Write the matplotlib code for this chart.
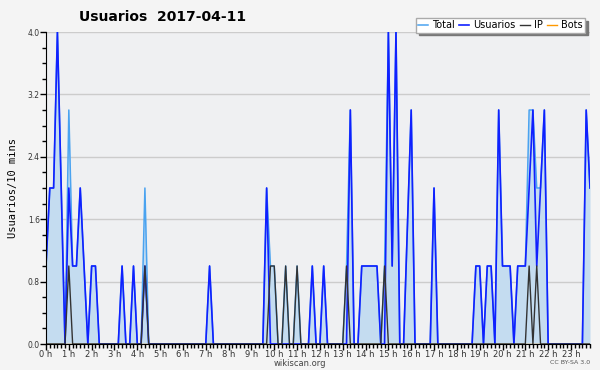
import numpy as np
import matplotlib
matplotlib.use("Agg")
import matplotlib.pyplot as plt
from matplotlib.ticker import MultipleLocator

# one value per 10 minutes, one row per hour (0 h .. 23 h)
usuarios = [
    1, 2, 2, 4, 2, 0,
    2, 1, 1, 2, 1, 0,
    1, 1, 0, 0, 0, 0,
    0, 0, 1, 0, 0, 1,
    0, 0, 1, 0, 0, 0,
    0, 0, 0, 0, 0, 0,
    0, 0, 0, 0, 0, 0,
    0, 1, 0, 0, 0, 0,
    0, 0, 0, 0, 0, 0,
    0, 0, 0, 0, 2, 0,
    0, 0, 0, 0, 0, 0,
    0, 0, 0, 0, 1, 0,
    0, 1, 0, 0, 0, 0,
    0, 0, 3, 0, 0, 1,
    1, 1, 1, 1, 0, 0,
    4, 1, 4, 0, 0, 1.5,
    3, 0, 0, 0, 0, 0,
    2, 0, 0, 0, 0, 0,
    0, 0, 0, 0, 0, 1,
    1, 0, 1, 1, 0, 3,
    1, 1, 1, 0, 1, 1,
    1, 2, 3, 1, 2, 3,
    0, 0, 0, 0, 0, 0,
    0, 0, 0, 0, 3, 2,
]
ip = [
    0, 0, 0, 0, 0, 0,
    1, 0, 0, 0, 0, 0,
    0, 0, 0, 0, 0, 0,
    0, 0, 0, 0, 0, 0,
    0, 0, 1, 0, 0, 0,
    0, 0, 0, 0, 0, 0,
    0, 0, 0, 0, 0, 0,
    0, 0, 0, 0, 0, 0,
    0, 0, 0, 0, 0, 0,
    0, 0, 0, 0, 0, 1,
    1, 0, 0, 1, 0, 0,
    1, 0, 0, 0, 0, 0,
    0, 0, 0, 0, 0, 0,
    0, 1, 0, 0, 0, 0,
    0, 0, 0, 0, 0, 1,
    0, 0, 0, 0, 0, 0,
    0, 0, 0, 0, 0, 0,
    0, 0, 0, 0, 0, 0,
    0, 0, 0, 0, 0, 0,
    0, 0, 0, 0, 0, 0,
    0, 0, 0, 0, 0, 0,
    0, 1, 0, 1, 0, 0,
    0, 0, 0, 0, 0, 0,
    0, 0, 0, 0, 0, 0,
]
total = [
    1, 2, 2, 4, 2, 0,
    3, 1, 1, 2, 1, 0,
    1, 1, 0, 0, 0, 0,
    0, 0, 1, 0, 0, 1,
    0, 0, 2, 0, 0, 0,
    0, 0, 0, 0, 0, 0,
    0, 0, 0, 0, 0, 0,
    0, 1, 0, 0, 0, 0,
    0, 0, 0, 0, 0, 0,
    0, 0, 0, 0, 2, 1,
    1, 0, 0, 1, 0, 0,
    1, 0, 0, 0, 1, 0,
    0, 1, 0, 0, 0, 0,
    0, 1, 3, 0, 0, 1,
    1, 1, 1, 1, 0, 1,
    4, 1, 4, 0, 0, 1.5,
    3, 0, 0, 0, 0, 0,
    2, 0, 0, 0, 0, 0,
    0, 0, 0, 0, 0, 1,
    1, 0, 1, 1, 0, 3,
    1, 1, 1, 0, 1, 1,
    1, 3, 3, 2, 2, 3,
    0, 0, 0, 0, 0, 0,
    0, 0, 0, 0, 3, 2,
]
bots = [0] * 144
hours = np.arange(len(usuarios)) / 6.0
hour_labels = ["%d h" % h for h in range(24)]

fig = plt.figure(figsize=(6, 3.7), dpi=100, facecolor="#f4f4f4")
ax = fig.add_axes([46 / 600, 26 / 370, 544 / 600, 312 / 370])
ax.set_facecolor("#eff0f2")

ax.fill_between(hours, total, 0, color="#c4dcf0", lw=0)
ax.plot(hours, bots, color="#ff9900", lw=1, label="Bots")
ax.plot(hours, total, color="#4aa3f0", lw=1.1, label="Total")
ax.plot(hours, usuarios, color="#1020ff", lw=1.2, label="Usuarios")
ax.plot(hours, ip, color="#333333", lw=1.0, label="IP")

ax.set_xlim(0, hours[-1])
ax.set_ylim(0, 4)
ax.set_xticks(range(24))
ax.set_xticklabels(hour_labels, fontsize=6, color="#333333")
ax.xaxis.set_minor_locator(MultipleLocator(1 / 6))
ax.set_yticks([0, 0.8, 1.6, 2.4, 3.2, 4.0])
ax.set_yticklabels(["0.0", "0.8", "1.6", "2.4", "3.2", "4.0"], fontsize=5.5, color="#333333")
ax.yaxis.set_minor_locator(MultipleLocator(0.2))
ax.tick_params(axis="both", which="major", length=4, width=1, pad=0.5)
ax.tick_params(axis="both", which="minor", length=3, width=1)
ax.grid(axis="y", which="major", color="#cccccc", lw=1)
ax.set_axisbelow(True)
for s in ["top", "right"]:
    ax.spines[s].set_visible(False)
ax.set_ylabel("Usuarios/10 mins", family="DejaVu Sans Mono", fontsize=7.5, labelpad=7)

fig.text(163 / 600, 1 - 17 / 370, "Usuarios  2017-04-11", ha="center", va="center",
         fontsize=10, fontweight="bold")
fig.text(300 / 600, 1 - 363 / 370, "wikiscan.org", ha="center", va="center",
         fontsize=6, color="#444444")
fig.text(590 / 600, 1 - 363 / 370, "CC BY-SA 3.0", ha="right", va="center",
         fontsize=4.5, color="#555555")

h = {l.get_label(): l for l in ax.get_lines()}
order = ["Total", "Usuarios", "IP", "Bots"]
fig.legend([h[k] for k in order], order, loc="upper right", ncol=4,
           bbox_to_anchor=(590 / 600, 1 - 13 / 370), fontsize=7,
           handlelength=1.0, handletextpad=0.4, columnspacing=0.5,
           borderpad=0.25, frameon=True, fancybox=False,
           shadow={"color": "#777777", "alpha": 1},
           edgecolor="#aaaaaa", facecolor="white", framealpha=1)

fig.savefig("out.png", dpi=100, facecolor=fig.get_facecolor())
